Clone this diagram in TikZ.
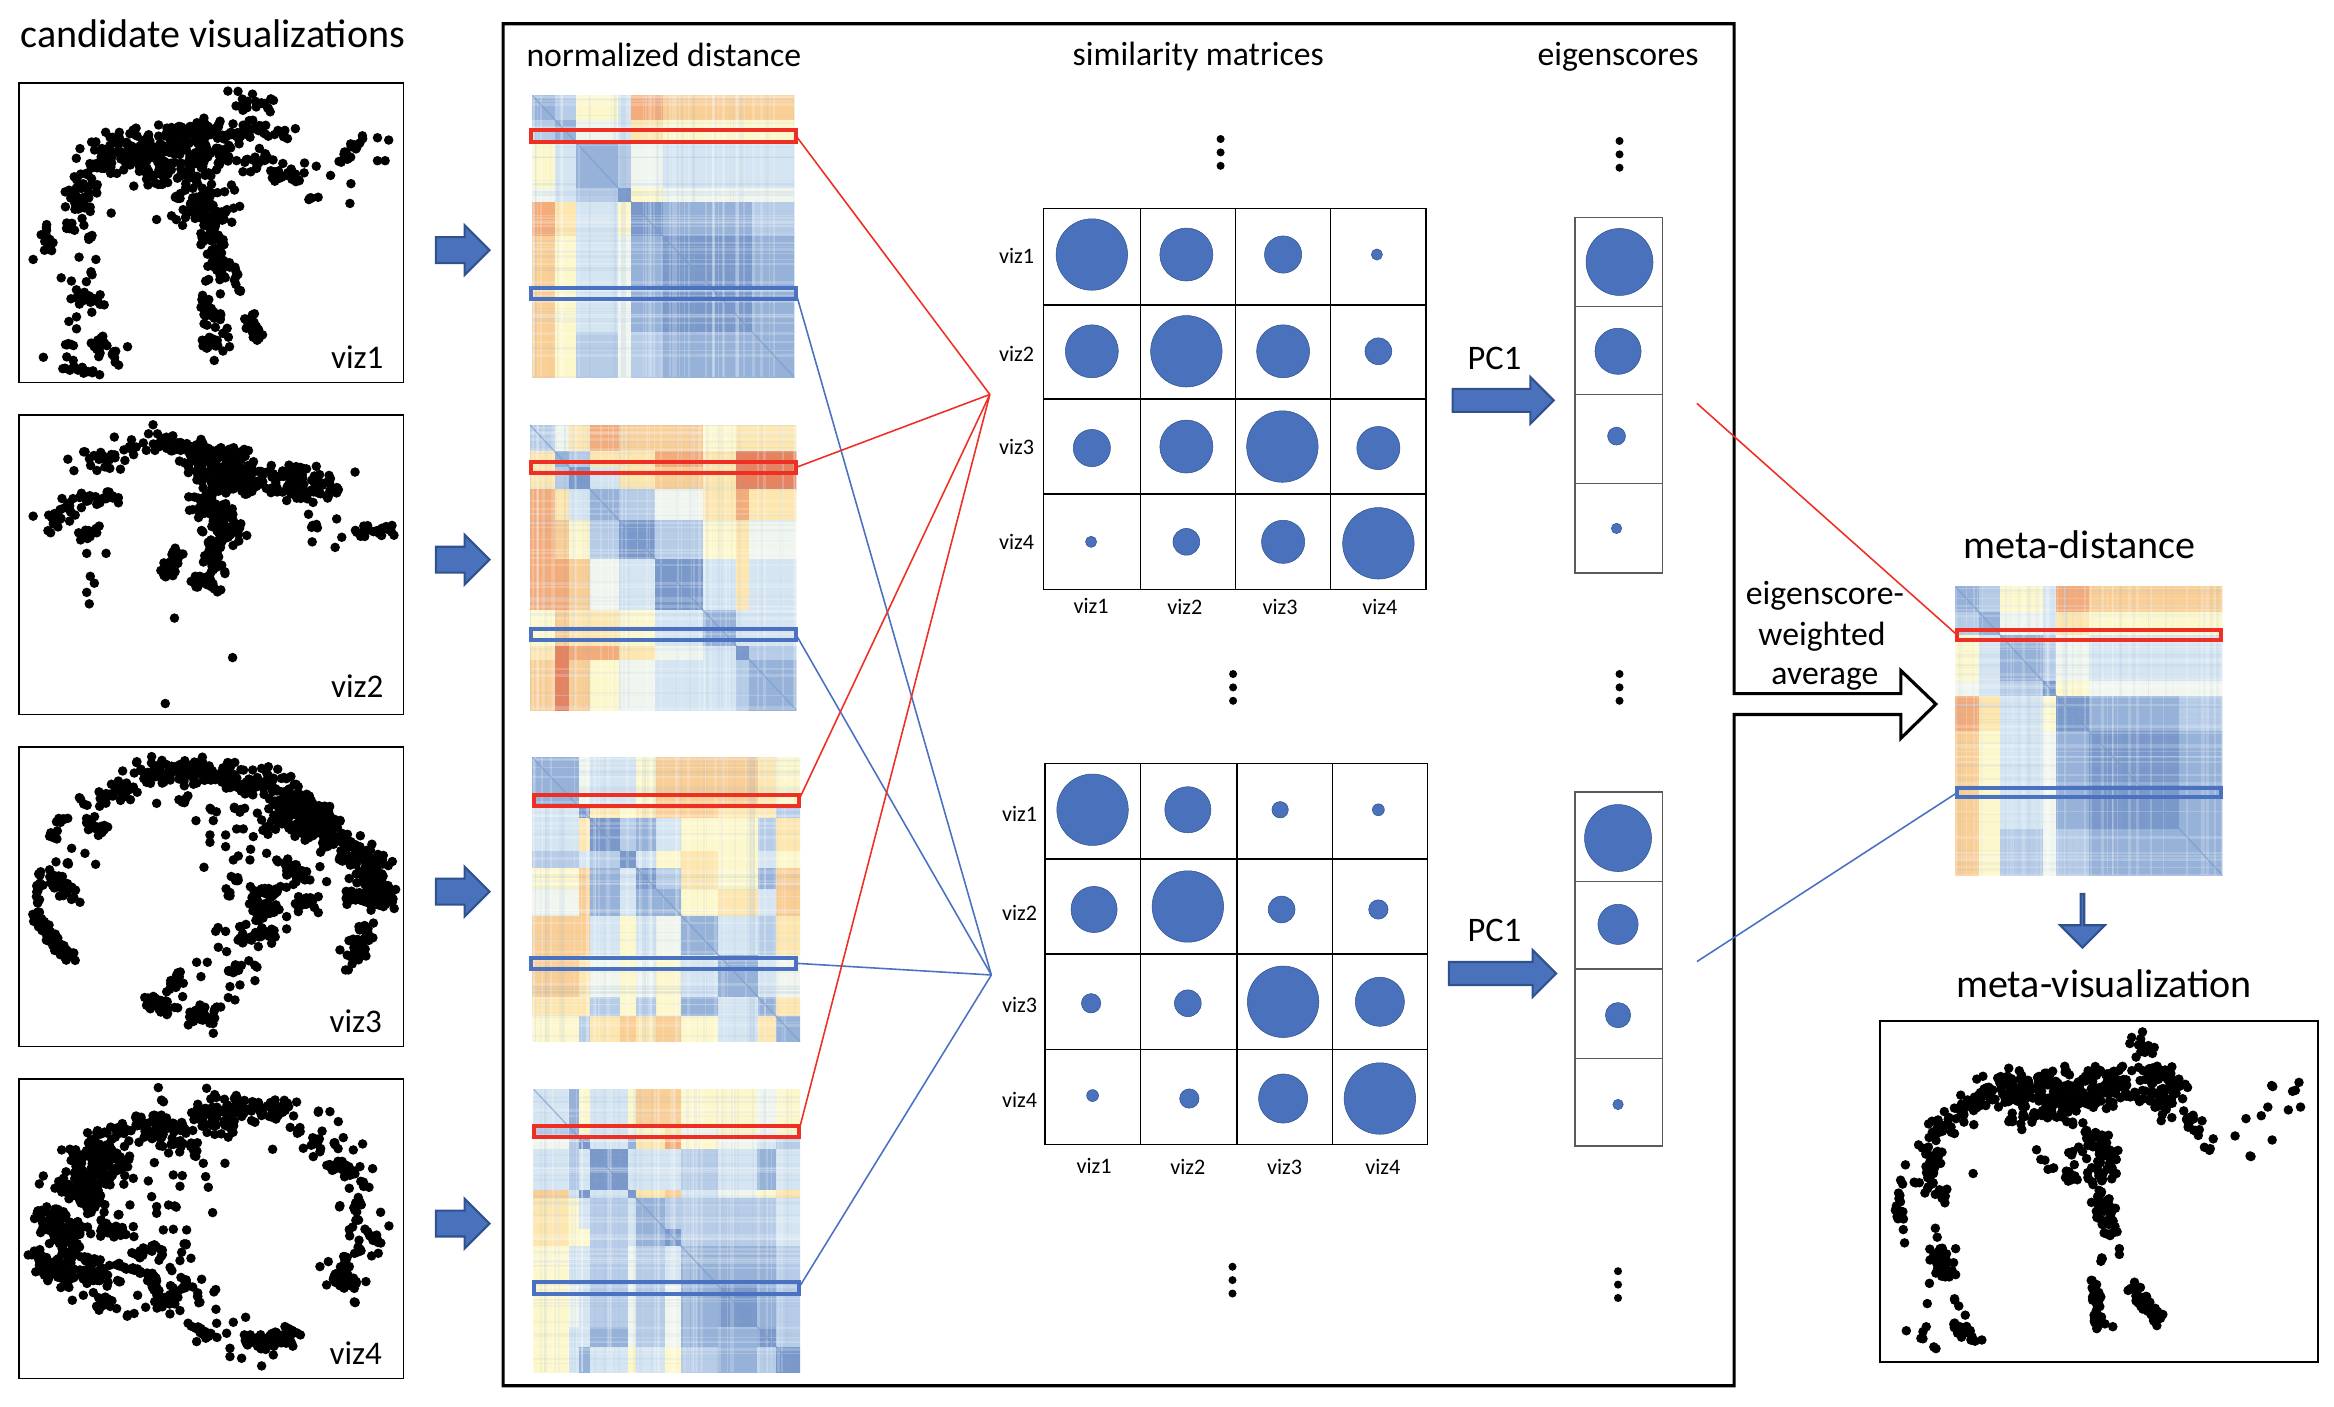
\documentclass[tikz,border=0pt]{standalone}
\usepackage{fontspec}
\setmainfont{Carlito}
\usetikzlibrary{%
        fit,
        shapes.arrows
    }
\definecolor{bluefill}{RGB}{74, 113, 187}
\definecolor{blueedge}{RGB}{47, 82, 143}
\definecolor{rowred}{RGB}{238, 48, 36}
\definecolor{rowblue}{RGB}{74, 114, 192}
\definecolor{cellgray}{RGB}{90, 90, 90}
\definecolor{hm0}{RGB}{122, 153, 202}
\definecolor{hm1}{RGB}{150, 178, 216}
\definecolor{hm2}{RGB}{182, 204, 231}
\definecolor{hm3}{RGB}{213, 229, 241}
\definecolor{hm4}{RGB}{240, 246, 238}
\definecolor{hm5}{RGB}{253, 248, 204}
\definecolor{hm6}{RGB}{253, 231, 175}
\definecolor{hm7}{RGB}{250, 207, 150}
\definecolor{hm8}{RGB}{244, 172, 122}
\definecolor{hm9}{RGB}{230, 130, 94}
\newcommand{\pxu}{0.14885mm}
\tikzset{%
    panel/.style={draw, line width=0.5pt, inner sep=0pt, outer sep=0pt},
    redrow/.style={draw=rowred, line width=1.1pt, inner sep=0pt, outer sep=0pt},
    bluerow/.style={draw=rowblue, line width=1.1pt, inner sep=0pt, outer sep=0pt},
    redlink/.style={rowred, line width=0.45pt},
    bluelink/.style={rowblue, line width=0.45pt},
    bigtitle/.style={font=\fontsize{11.4}{13}\selectfont},
    headtitle/.style={font=\fontsize{9.6}{11}\selectfont},
    vizlabel/.style={font=\fontsize{9.4}{11}\selectfont},
    pclabel/.style={font=\fontsize{9.8}{11}\selectfont},
    smalllabel/.style={font=\fontsize{6.3}{8}\selectfont},
    blockarrow/.style={shape=single arrow, fill=bluefill, draw=blueedge,
        line width=0.6pt, inner xsep=0pt, outer sep=0pt,
        single arrow tip angle=90, single arrow head indent=0pt},
    bubble/.style={fill=bluefill, draw=blueedge, line width=0.15pt},
    gridline/.style={line width=0.4pt}
}
% scattered dots along segments, plus single dots
\newcommand{\dotcloud}[6]{%
    \foreach \xa/\ya/\xb/\yb/\jit/\nn in {#5}{%
        \pgfmathtruncatemacro{\nncount}{\nn>7 ? 1.8*\nn : \nn}
        \foreach \dd in {1, ..., \nncount}{%
            \pgfmathsetmacro{\frc}{rnd}
            \pgfmathsetmacro{\ptx}{#1+#3*(\xa+\frc*(\xb-\xa)+1.5*\jit*(rnd+rnd-1))}
            \pgfmathsetmacro{\pty}{#2+#4*(\ya+\frc*(\yb-\ya)+1.5*\jit*(rnd+rnd-1))}
            \fill (\ptx, \pty) circle[radius=3.2];
        };
    };
    \foreach \xa/\ya in {#6}{%
        \fill ({#1+#3*\xa}, {#2+#4*\ya}) circle[radius=3.2];
    };
}
% block matrix with fine stripes
\newcommand{\heatmap}[7]{%
    \edef\brk{{#5}}
    \edef\rowlist{#6}
    \begin{scope}
    \clip (#1, #2) rectangle (#3, #4);
    \foreach \rowvals [count=\ri] in \rowlist {%
        \foreach \val [count=\ci] in \rowvals {%
            \pgfmathsetmacro{\bxa}{#1+(#3-#1)*\brk[\ci-1]}
            \pgfmathsetmacro{\bxb}{#1+(#3-#1)*\brk[\ci]}
            \pgfmathsetmacro{\bya}{#2+(#4-#2)*\brk[\ri-1]}
            \pgfmathsetmacro{\byb}{#2+(#4-#2)*\brk[\ri]}
            \path[fill=hm\val, draw=hm\val, line width=0.2pt]
                (\bxa, \bya) rectangle (\bxb, \byb);
        };
    };
    \pgfmathsetseed{#7}
    \foreach \dd in {1, ..., 70}{%
        \pgfmathsetmacro{\frc}{rnd}
        \pgfmathsetmacro{\wdt}{0.25+0.6*rnd}
        \pgfmathsetmacro{\lnx}{#1+(#3-#1)*\frc}
        \pgfmathsetmacro{\lny}{#2+(#4-#2)*\frc}
        \pgfmathtruncatemacro{\odd}{mod(\dd,2)}
        \ifnum\odd=0
            \draw[white, opacity=0.2, line width=\wdt pt] (\lnx, #2) -- (\lnx, #4);
            \draw[white, opacity=0.2, line width=\wdt pt] (#1, \lny) -- (#3, \lny);
        \else
            \draw[hm1, opacity=0.09, line width=\wdt pt] (\lnx, #2) -- (\lnx, #4);
            \draw[hm1, opacity=0.09, line width=\wdt pt] (#1, \lny) -- (#3, \lny);
        \fi
    };
    \draw[hm0, opacity=0.6, line width=0.4pt] (#1, #2) -- (#3, #4);
    \end{scope}
}
\def\breaksA{0, 0.09, 0.17, 0.33, 0.38, 0.5, 0.84, 1}
\def\rowsA{{1,2,5,3,8,7,7},{2,1,4,3,6,5,5},{5,3,1,2,4,3,3},{4,3,2,0,5,4,4},{8,6,3,5,0,1,2},{7,5,3,4,1,0,1},{7,5,2,4,2,1,1}}

\begin{document}
\begin{tikzpicture}[x=\pxu, y=-\pxu]
    \useasboundingbox (0, 0) rectangle (1568, 944.6);

    % Candidate visualizations
    \node[bigtitle] (candidates) at (143, 23) {candidate visualizations};
    \node[panel, fit={(13, 56) (271, 257)}] (vizone) {};
    \node[panel, fit={(13, 279) (271, 480)}] (viztwo) {};
    \node[panel, fit={(13, 502) (271, 703)}] (vizthree) {};
    \node[panel, fit={(13, 725) (271, 926)}] (vizfour) {};
    \node[vizlabel] (vizonelabel) at (240, 240) {viz1};
    \node[vizlabel] (viztwolabel) at (240, 461) {viz2};
    \node[vizlabel] (vizthreelabel) at (239, 686) {viz3};
    \node[vizlabel] (vizfourlabel) at (239, 909) {viz4};

    \pgfmathsetseed{11}
    \dotcloud{0}{0}{0.3427}{0.3085}{%
        200/340/450/310/40/130, 300/380/430/350/25/30, 300/290/420/280/15/25, 450/220/530/230/20/12,
        450/290/560/290/15/18, 490/340/530/360/25/12, 170/370/150/470/25/28,
        290/390/440/420/30/20, 370/440/430/490/30/35, 410/500/440/590/20/25,
        340/470/360/495/3/3, 420/600/470/600/15/8, 530/380/590/390/15/12,
        605/435/630/430/3/4, 665/355/710/300/10/10, 85/490/100/550/12/8,
        130/480/140/505/8/6, 175/510/175/525/5/4, 180/590/170/610/5/4,
        130/650/200/650/15/12, 205/720/190/745/5/4, 120/750/150/750/6/5,
        190/760/240/780/15/10, 130/790/180/810/15/8, 395/650/440/720/15/16,
        400/740/430/760/10/10, 465/630/480/640/2/3, 480/670/510/745/12/14}{%
        495/205, 307/478, 218/464, 620/362, 648/382, 597/355, 688/400, 686/443,
        740/300, 762/305, 740/350, 755/350, 65/565, 155/560, 188/565, 120/605,
        140/612, 150/690, 135/700, 150/716, 180/680, 250/755, 85/778, 420/785,
        450/755, 432/640, 400/705}

    \dotcloud{0}{0}{0.3427}{0.3085}{%
        100/1150/150/1100/20/14, 150/1090/240/1080/15/14, 150/1170/190/1155/12/8,
        190/1000/300/970/25/18, 310/960/490/1000/15/50, 380/1010/510/1060/30/85,
        400/1090/460/1170/30/50, 420/1180/420/1250/18/20, 540/1040/650/1060/30/50,
        600/1110/620/1170/10/6, 700/1160/770/1150/12/12, 320/1250/355/1200/10/14,
        380/1260/430/1280/12/15, 315/1250/350/1250/4/5}{%
        660/1130, 670/1170, 657/1192, 612/1180, 208/1205, 696/1028, 65/1124,
        133/1000, 145/1025, 370/1082, 170/1205, 177/1255, 185/1270, 170/1290,
        175/1315, 342/1346, 456/1432, 324/1532, 300/925}

    \dotcloud{0}{490.4}{0.2239}{0.2239}{%
        420/130/640/120/30/50, 640/130/820/160/35/40, 820/180/1000/310/50/90,
        800/270/1000/300/35/40, 1000/330/1150/420/35/40, 1090/420/1150/510/35/50,
        1050/500/1160/510/25/15, 1110/580/1060/690/25/25, 300/205/420/180/20/15,
        320/160/380/155/4/6, 245/210/270/235/6/4, 190/250/160/330/15/8,
        250/275/320/300/20/10, 165/395/215/395/8/4, 150/440/210/490/25/18,
        120/430/110/550/12/8, 110/550/150/610/15/10, 150/620/210/690/20/18,
        545/225/560/190/10/5, 620/235/655/250/4/3, 690/230/745/240/8/5,
        860/400/900/450/25/18, 690/445/725/450/5/5, 685/475/695/520/10/5,
        740/490/860/480/15/14, 770/520/820/550/25/14, 880/520/960/510/15/10,
        710/590/790/565/5/7, 640/600/680/600/8/3, 690/635/820/600/15/14,
        680/735/720/710/10/8, 745/690/770/712/3/3, 540/720/505/790/10/9,
        440/815/520/845/18/16, 580/840/640/880/20/15, 650/830/670/835/5/3}{%
        1020/660, 1045/720, 1165/407, 368/123, 455/80, 255/370, 287/403, 215/355,
        240/517, 470/220, 588/272, 640/272, 785/270, 630/315, 630/337, 677/315,
        677/350, 710/297, 730/297, 760/320, 752/358, 750/390, 700/390, 715/378,
        800/370, 830/390, 612/412, 920/425, 960/410, 980/455, 930/450, 895/545,
        955/548, 860/560, 860/597, 655/652, 680/665, 775/650, 815/640, 690/770,
        720/765, 765/752, 590/697, 622/697, 603/740, 550/760, 548/800, 600/825,
        565/885, 640/910, 685/803, 705/810}

    \dotcloud{0}{718.8}{0.2239}{0.2239}{%
        410/160/560/200/40/35, 590/120/740/110/30/35, 750/120/890/120/25/18,
        590/160/720/170/30/14, 600/220/580/265/10/5, 250/210/400/170/15/15,
        230/260/370/260/35/40, 220/320/360/310/35/25, 200/350/290/400/30/50,
        100/430/200/430/15/12, 170/440/200/560/35/45, 120/480/300/490/20/15,
        300/460/370/500/15/12, 110/560/180/620/25/25, 180/620/320/620/30/25,
        250/570/330/580/10/8, 400/560/470/530/12/10, 480/570/490/530/5/5,
        340/580/470/620/5/12, 450/630/510/690/15/15, 470/700/540/660/25/10,
        530/640/580/640/15/6, 590/670/600/695/8/5, 640/670/650/650/3/2,
        290/710/330/690/15/8, 380/738/410/728/2/3, 370/640/350/630/2/3,
        505/405/530/410/2/3, 345/445/360/430/2/3, 535/510/560/525/2/3,
        510/590/520/610/3/2, 880/170/910/190/8/6, 945/190/960/240/15/8,
        955/120/955/155/1/2, 1000/220/1020/240/5/4, 990/280/1060/320/15/16,
        1080/320/1100/355/6/4, 1080/380/1065/430/10/8, 1020/405/1020/420/3/2,
        1080/450/1050/490/10/6, 1090/490/1140/510/12/8, 1075/510/1075/560/8/6,
        1035/560/1030/650/12/18, 1000/610/1060/640/15/15, 1050/687/1070/700/1/2,
        570/765/650/810/8/12, 740/820/880/800/20/40, 480/85/490/95/1/2}{%
        605/628, 350/716, 437/712, 540/722, 510/732, 648/718, 413/676, 250/676,
        217/691, 280/668, 130/318, 118/342, 185/240, 445/333, 463/278, 520/315,
        547/317, 540/349, 455/380, 470/410, 470/430, 390/405, 400/470, 402/500,
        490/480, 520/478, 560/480, 545/547, 540/572, 573/565, 610/280, 617/320,
        625/352, 675/280, 638/428, 818/238, 910/235, 940/260, 990/125, 1015/155,
        1030/203, 1088/222, 1060/240, 1080/290, 1118/296, 1048/355, 1142/427,
        1167/468, 960/590, 985/575, 1098/635, 1135/550, 1115/558, 980/645,
        590/815, 700/757, 737/742, 680/790, 650/760, 690/835, 690/860, 725/865,
        785/888, 820/855, 855/770, 475/53, 620/55}

    % Arrows into the frame
    \foreach \ay/\an in {168/one, 376/two, 599/three, 822/four}{%
        \node[blockarrow, minimum height=36*\pxu, minimum width=32*\pxu, inner ysep=8*\pxu,
            single arrow head extend=8*\pxu] (arrow\an) at (306.5, \ay) {};
    };

    % Frame with its arrow
    \draw[line width=0.9pt] (1165, 466) -- (1277, 466) -- (1277, 450.5)
        -- (1300.5, 473) -- (1277, 496) -- (1277, 480) -- (1165, 480)
        -- (1165, 931) -- (338, 931) -- (338, 16) -- (1165, 16) -- cycle;
    \node[headtitle] (normalized) at (446, 37) {normalized distance};
    \node[headtitle] (similarity) at (805, 38) {similarity matrices};
    \node[headtitle] (eigenscores) at (1087, 38) {eigenscores};

    % Distance heatmaps
    \heatmap{357.4}{63.9}{533.6}{253.5}{\breaksA}{\rowsA}{21}
    \heatmap{356}{285.5}{535}{477}{0, 0.094, 0.147, 0.225, 0.335, 0.47, 0.65, 0.775, 0.825, 1}{%
        {2,4,6,8,7,7,5,6,6},{6,1,2,6,6,8,6,9,9},{6,2,0,3,6,7,6,9,9},
        {8,6,3,1,2,4,6,8,6},{8,7,5,2,0,2,5,6,4},{8,8,7,4,3,0,3,6,3},
        {5,7,6,6,5,3,1,3,3},{6,9,8,8,6,4,3,0,2},{7,9,7,5,4,3,3,2,1}}{22}
    \heatmap{357.4}{508.6}{537.5}{699.8}{0, 0.177, 0.216, 0.33, 0.39, 0.465, 0.558, 0.695, 0.845, 0.91, 1}{%
        {1,4,3,3,5,7,7,7,6,5},{3,0,6,5,6,7,7,6,6,2},{3,6,0,2,1,3,5,5,2,6},
        {2,3,2,0,3,5,6,5,3,5},{5,7,1,3,0,2,6,5,1,7},{4,7,1,3,1,1,5,6,3,7},
        {7,7,3,5,3,4,1,3,2,6},{7,6,4,5,4,5,3,1,3,4},{6,6,2,5,2,5,1,3,1,6},
        {5,2,6,7,6,7,5,3,6,1}}{23}
    \heatmap{358.3}{731.6}{537.5}{922}{0, 0.135, 0.172, 0.2125, 0.356, 0.3875, 0.494, 0.556, 0.694, 0.84, 0.91, 1}{%
        {3,1,5,3,5,7,7,5,5,4,5},{2,1,5,3,4,5,6,4,5,4,5},{4,2,0,3,1,6,8,5,4,3,2},
        {3,2,3,0,3,3,3,2,3,1,3},{7,3,0,3,0,6,7,3,4,5,6},{6,5,3,2,3,1,2,2,2,2,3},
        {6,5,5,2,3,1,0,2,2,2,3},{5,3,3,2,4,2,3,1,1,1,2},{5,4,3,2,4,2,4,1,0,1,2},
        {5,3,3,1,4,2,4,1,1,0,2},{5,3,1,3,5,3,5,2,1,2,0}}{24}

    % Highlighted rows
    \node[redrow, fit={(356.8, 87.6) (534.9, 95.3)}] (redone) {};
    \node[bluerow, fit={(356.8, 193.7) (534.9, 201.1)}] (blueone) {};
    \node[redrow, fit={(356.8, 310.4) (534.7, 317.7)}] (redtwo) {};
    \node[bluerow, fit={(356.8, 422.7) (534.7, 429.7)}] (bluetwo) {};
    \node[redrow, fit={(358.8, 533.8) (536.6, 541.4)}] (redthree) {};
    \node[bluerow, fit={(356.8, 643.3) (534.7, 651)}] (bluethree) {};
    \node[redrow, fit={(358.8, 756.3) (536.6, 763.7)}] (redfour) {};
    \node[bluerow, fit={(358.8, 861.3) (536.6, 869.2)}] (bluefour) {};

    % Fans
    \coordinate (redhub) at (665, 265);
    \coordinate (bluehub) at (666, 655);
    \foreach \nm in {one, two, three, four}{%
        \draw[redlink] (red\nm.east) -- (redhub);
        \draw[bluelink] (blue\nm.east) -- (bluehub);
    };

    % Similarity matrices
    \draw[gridline] (701, 140) rectangle (958, 396);
    \foreach \gx in {766, 830, 894}{\draw[gridline] (\gx, 140) -- (\gx, 396);};
    \foreach \gy in {205, 268, 332}{\draw[gridline] (701, \gy) -- (958, \gy);};
    \foreach \cx/\cy/\dm in {733.5/171/48, 797/171/35.6, 862/171/25, 925/171/7.5,
        733.5/236/35.6, 797/236/48, 862/236/35.6, 926/236/18,
        733.5/301/25, 797/300/35.6, 861.5/300/48, 926/301/29,
        733/364/7.5, 797/364/18, 862/364/29, 926/365/48}{%
        \fill[bubble] (\cx, \cy) circle[radius=\dm/2];
    };
    \foreach \lb/\lx/\ly in {viz1/683/172, viz2/683/238, viz3/683/300, viz4/683/364,
        viz1/733/407, viz2/796/408, viz3/860/408, viz4/927/408}{%
        \node[smalllabel] at (\lx, \ly) {\lb};
    };

    \draw[gridline] (702, 513) rectangle (959, 769);
    \foreach \gx in {766, 831, 895}{\draw[gridline] (\gx, 513) -- (\gx, 769);};
    \foreach \gy in {577, 641, 705}{\draw[gridline] (702, \gy) -- (959, \gy);};
    \foreach \cx/\cy/\dm in {734/544/48, 798/544/31, 860/544/11, 926/544/8,
        735/611/31, 798/609/48, 861/611/18, 926/611/13,
        733/674/13, 798/674/18, 862/673/48, 927/673/33,
        734/736/8, 799/738/13, 862/738/33, 927/738/48}{%
        \fill[bubble] (\cx, \cy) circle[radius=\dm/2];
    };
    \foreach \lb/\lx/\ly in {viz1/685/547, viz2/685/613, viz3/685/675, viz4/685/739,
        viz1/735/783, viz2/798/784, viz3/863/784, viz4/929/784}{%
        \node[smalllabel] at (\lx, \ly) {\lb};
    };

    % Eigenscores
    \foreach \ya/\yb/\yc/\yd/\ye in {146/206/265/325/385, 532/592/651/711/770}{%
        \draw[cellgray, line width=0.4pt] (1058, \ya) rectangle (1117, \ye);
        \draw[cellgray, line width=0.4pt] (1058, \yb) -- (1117, \yb)
            (1058, \yc) -- (1117, \yc) (1058, \yd) -- (1117, \yd);
    };
    \foreach \cx/\cy/\dm in {1088/176/45, 1087/236/31, 1086/293/12, 1086/355/7,
        1087/563/45, 1087/621/27, 1087/682/17, 1087/742/7}{%
        \fill[bubble] (\cx, \cy) circle[radius=\dm/2];
    };

    % Dots between the rows
    \foreach \vx/\vy in {820/93.4, 1088/94.7, 828.4/452.8, 1088/452.8, 828/851, 1087/854}{%
        \foreach \vs in {0, 9, 18}{%
            \fill (\vx, \vy+\vs) circle[radius=2.7];
        };
    };

    % PC1 arrows
    \node[blockarrow, minimum height=68*\pxu, minimum width=30*\pxu, inner ysep=7*\pxu,
        single arrow head extend=8*\pxu] (pcone) at (1006, 269) {};
    \node[blockarrow, minimum height=72*\pxu, minimum width=30*\pxu, inner ysep=7*\pxu,
        single arrow head extend=8*\pxu] (pctwo) at (1005.5, 654) {};
    \node[pclabel] (pconelabel) at (1004, 241) {PC1};
    \node[pclabel] (pctwolabel) at (1004, 625) {PC1};

    % Weighted average
    \node[headtitle] (avgone) at (1226, 400) {eigenscore-};
    \node[headtitle] (avgtwo) at (1224, 428) {weighted};
    \node[headtitle] (avgthree) at (1226, 456.5) {average};

    % Meta distance
    \node[bigtitle] (metadist) at (1397, 366) {meta-distance};
    \heatmap{1313.6}{394}{1493}{588}{\breaksA}{\rowsA}{25}
    \node[redrow, fit={(1315, 423.3) (1492.3, 430.2)}] (redmeta) {};
    \node[bluerow, fit={(1315, 529.1) (1492.3, 535.7)}] (bluemeta) {};
    \coordinate (redfree) at (1140, 271);
    \coordinate (bluefree) at (1140, 646);
    \draw[redlink] (redfree) -- (redmeta.west);
    \draw[bluelink] (bluefree) -- (bluemeta.west);

    % Meta visualization
    \node[blockarrow, shape border rotate=270, minimum height=36*\pxu, minimum width=30*\pxu,
        inner ysep=7*\pxu, single arrow head extend=8*\pxu] (metaarrow) at (1399, 618) {};
    \node[bigtitle] (metaviz) at (1413.5, 661) {meta-visualization};
    \node[panel, fit={(1263, 686) (1557, 915)}] (metapanel) {};
    \dotcloud{1108.5}{336}{0.2933}{0.3883}{%
        760/1020/1100/1010/25/110, 820/1030/1050/1040/15/30, 650/1090/760/1040/20/25, 820/1060/1000/1060/20/25,
        1110/940/1150/950/15/8, 1130/1000/1200/1050/30/35, 1150/980/1220/1010/15/10,
        1220/1060/1260/1090/12/10, 1260/1120/1300/1130/5/3, 1370/1135/1385/1135/1/2,
        1420/1010/1435/1020/1/2, 1490/1005/1470/1025/3/3, 1000/1090/1060/1140/25/25,
        880/1120/920/1160/8/6, 950/1130/1000/1120/5/4, 960/1170/1060/1160/15/16,
        1030/1210/1060/1270/20/25, 1030/1300/1040/1330/3/4, 1015/1350/1030/1430/10/20,
        1100/1360/1170/1420/12/20, 610/1120/670/1110/15/5, 660/1130/640/1180/15/14,
        575/1180/565/1240/12/8, 610/1180/680/1210/15/8, 650/1250/660/1280/1/2,
        650/1300/680/1340/15/20, 690/1375/710/1395/3/3, 625/1430/625/1450/8/4,
        700/1430/740/1450/10/10}{%
        1128/920, 1290/1105, 1340/1100, 1365/1070, 1400/1065, 1415/1050, 1425/1107,
        1490/1050, 1462/1055, 1075/1295, 1075/1305, 1060/1430, 585/1150, 605/1180,
        740/1165, 580/1262, 583/1285, 700/1295, 700/1340, 640/1355, 635/1390,
        722/1410, 587/1437, 650/1465, 655/1468, 760/1453}

\end{tikzpicture}
\end{document}
